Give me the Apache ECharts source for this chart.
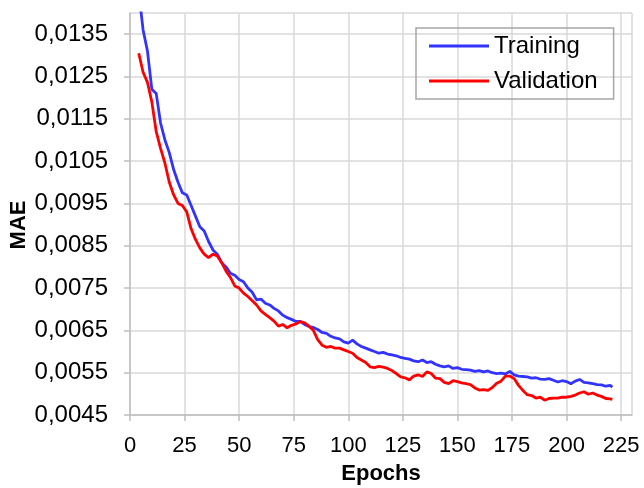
<!DOCTYPE html>
<html>
<head>
<meta charset="utf-8">
<script src="https://cdn.jsdelivr.net/npm/echarts@6/dist/echarts.min.js"></script>
<style>
  html, body { margin: 0; padding: 0; background: #fff; }
  #main { width: 644px; height: 488px; }
</style>
</head>
<body>
<div id="main"></div>
<script>
// epochs sampled every 2 (last point 221)
var epochs = [4, 6, 8, 10, 12, 14, 16, 18, 20, 22, 24, 26, 28, 30, 32, 34, 36, 38, 40, 42,
  44, 46, 48, 50, 52, 54, 56, 58, 60, 62, 64, 66, 68, 70, 72, 74, 76, 78, 80, 82,
  84, 86, 88, 90, 92, 94, 96, 98, 100, 102, 104, 106, 108, 110, 112, 114, 116, 118, 120, 122,
  124, 126, 128, 130, 132, 134, 136, 138, 140, 142, 144, 146, 148, 150, 152, 154, 156, 158, 160, 162,
  164, 166, 168, 170, 172, 174, 176, 178, 180, 182, 184, 186, 188, 190, 192, 194, 196, 198, 200, 202,
  204, 206, 208, 210, 212, 214, 216, 218, 220, 221];

var training = [0.0145, 0.0136, 0.0131, 0.0122, 0.0121, 0.0114, 0.0110, 0.0107, 0.0103, 0.0100,
  0.00975, 0.0097, 0.00945, 0.0092, 0.00895, 0.00885, 0.0086, 0.0084, 0.0083, 0.0081,
  0.0080, 0.00785, 0.0078, 0.0077, 0.00765, 0.0075, 0.0074, 0.00722, 0.00724, 0.00714,
  0.0071, 0.00702, 0.00696, 0.00686, 0.0068, 0.00676, 0.00671, 0.00671, 0.00664, 0.00659,
  0.00657, 0.00652, 0.00645, 0.00643, 0.00636, 0.00632, 0.0063, 0.00623, 0.0062, 0.00627,
  0.00618, 0.00612, 0.00608, 0.00604, 0.006, 0.00596, 0.00598, 0.00594, 0.00592, 0.0059,
  0.00586, 0.00584, 0.00582, 0.00578, 0.00576, 0.0058, 0.00574, 0.00576, 0.0057, 0.00566,
  0.00564, 0.00566, 0.0056, 0.00562, 0.00558, 0.00557, 0.00556, 0.00553, 0.00555, 0.00552,
  0.00554, 0.0055, 0.00548, 0.00549, 0.00547, 0.00553, 0.00545, 0.00542, 0.00541, 0.0054,
  0.00537, 0.00538, 0.00535, 0.00534, 0.00536, 0.00532, 0.00528, 0.00531, 0.00529, 0.00524,
  0.0053, 0.00534, 0.00527, 0.00526, 0.00524, 0.00522, 0.00521, 0.00518, 0.0052, 0.00516];

var validation = [0.01305, 0.0126, 0.01236, 0.0119, 0.0112, 0.0108, 0.01045, 0.0100, 0.0097, 0.0095,
  0.00945, 0.0093, 0.0089, 0.00865, 0.00845, 0.0083, 0.00822, 0.0083, 0.00826, 0.0081,
  0.0079, 0.00775, 0.00755, 0.0075, 0.00738, 0.0073, 0.0072, 0.0071, 0.00696, 0.00688,
  0.0068, 0.00672, 0.0066, 0.00664, 0.00656, 0.00662, 0.00665, 0.00671, 0.00668, 0.0066,
  0.0065, 0.00628, 0.00615, 0.0061, 0.00612, 0.00608, 0.00608, 0.00604, 0.006, 0.00596,
  0.00586, 0.0058, 0.00574, 0.00564, 0.00562, 0.00565, 0.00563, 0.0056, 0.00555, 0.00548,
  0.0054, 0.00538, 0.00533, 0.00542, 0.00545, 0.00541, 0.00552, 0.00548, 0.00537, 0.00536,
  0.00527, 0.00524, 0.00531, 0.00529, 0.00526, 0.00524, 0.00522, 0.00514, 0.00509, 0.0051,
  0.00508, 0.00515, 0.00525, 0.0053, 0.00542, 0.00542, 0.00536, 0.0052, 0.00508, 0.00498,
  0.00496, 0.0049, 0.00492, 0.00485, 0.00489, 0.0049, 0.0049, 0.00492, 0.00492, 0.00494,
  0.00497, 0.00502, 0.00505, 0.00499, 0.00502, 0.00497, 0.00494, 0.00489, 0.00488, 0.00487];

function pairs(ys) {
  return epochs.map(function (e, i) { return [e, ys[i]]; });
}

var chart = echarts.init(document.getElementById('main'));
var font = 'Liberation Sans, Arial, sans-serif';
chart.setOption({
  backgroundColor: '#fff',
  animation: false,
  grid: { left: 130, right: 12, top: 13, bottom: 73, outerBoundsMode: 'none', containLabel: false },
  legend: {
    orient: 'vertical',
    left: 416,
    top: 28,
    padding: [6, 16, 6, 13],
    itemGap: 11,
    itemWidth: 60,
    itemHeight: 3,
    icon: 'rect',
    borderColor: '#a6a6a6',
    borderWidth: 1.5,
    textStyle: { fontFamily: font, fontSize: 24, color: '#000' },
    data: ['Training', 'Validation']
  },
  xAxis: {
    type: 'value',
    min: 0,
    max: 230,
    interval: 25,
    name: 'Epochs',
    nameLocation: 'middle',
    nameGap: 48,
    nameMoveOverlap: false,
    nameTextStyle: { fontFamily: font, fontSize: 22, fontWeight: 'bold', color: '#000' },
    axisLine: { show: true, lineStyle: { color: '#bfbfbf', width: 1.5 } },
    axisTick: { show: true, length: 6, lineStyle: { color: '#bfbfbf', width: 1.5 } },
    axisLabel: { fontFamily: font, fontSize: 22, color: '#000', margin: 20, showMaxLabel: false },
    splitLine: { show: true, lineStyle: { color: '#d9d9d9', width: 1.5 } }
  },
  yAxis: {
    type: 'value',
    min: 0.0045,
    max: 0.014,
    interval: 0.001,
    name: 'MAE',
    nameLocation: 'middle',
    nameGap: 100,
    nameMoveOverlap: false,
    nameTextStyle: { fontFamily: font, fontSize: 22, fontWeight: 'bold', color: '#000', padding: [0, 22, 0, 0] },
    axisLine: { show: true, lineStyle: { color: '#bfbfbf', width: 1.5 } },
    axisTick: { show: true, length: 6, lineStyle: { color: '#bfbfbf', width: 1.5 } },
    axisLabel: {
      fontFamily: font, fontSize: 24, color: '#000', margin: 22, showMaxLabel: false,
      formatter: function (v) { return v.toFixed(4).replace('.', ','); }
    },
    splitLine: { show: true, lineStyle: { color: '#d9d9d9', width: 1.5 } }
  },
  series: [
    {
      name: 'Training',
      type: 'line',
      data: pairs(training),
      showSymbol: false,
      color: '#3333ff',
      lineStyle: { width: 2.8, color: '#3333ff' }
    },
    {
      name: 'Validation',
      type: 'line',
      data: pairs(validation),
      showSymbol: false,
      color: '#ff0000',
      lineStyle: { width: 2.8, color: '#ff0000' }
    }
  ]
});
</script>
</body>
</html>
